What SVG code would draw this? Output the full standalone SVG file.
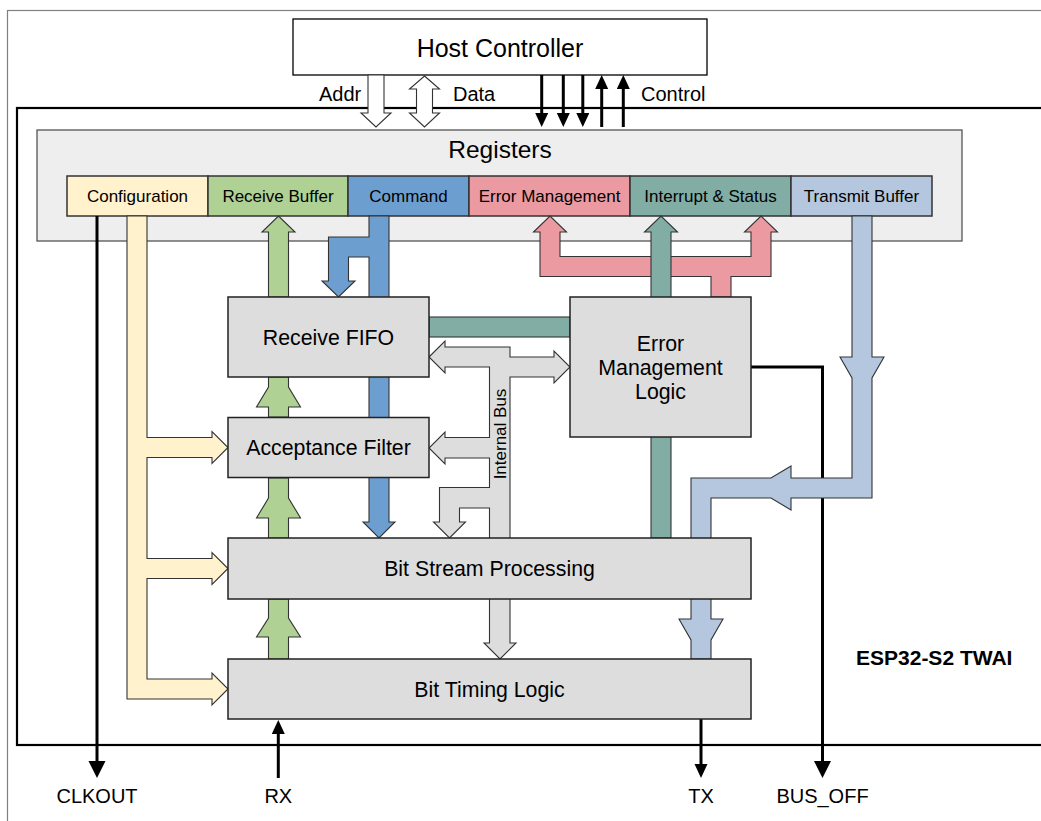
<svg xmlns="http://www.w3.org/2000/svg" width="1041" height="821" viewBox="0 0 1041 821">
<style>
text{font-family:"Liberation Sans",Arial,sans-serif;fill:#000}
.t20{font-size:20px}
.t24{font-size:24.5px}
.t17{font-size:17px}
.t21{font-size:21.3px}
.mid{text-anchor:middle}
.blk{fill:#dddddd;stroke:#222;stroke-width:1.5}
.cell{stroke:#333;stroke-width:1.5}
.fa{stroke:#333;stroke-width:1.1;stroke-linejoin:miter}
.wl{fill:none;stroke:#000;stroke-width:3}
</style>
<defs>
<marker id="ms" markerUnits="userSpaceOnUse" markerWidth="16" markerHeight="14" refX="0" refY="6.5" orient="auto"><path d="M0,0 L14,6.5 L0,13 z" fill="#000"/></marker>
<marker id="ml" markerUnits="userSpaceOnUse" markerWidth="19" markerHeight="18" refX="0" refY="8.5" orient="auto"><path d="M0,0 L17,8.5 L0,17 z" fill="#000"/></marker>
</defs>
<rect x="0" y="0" width="1041" height="821" fill="#fff"/>
<rect x="7.5" y="10.5" width="1100" height="900" fill="#fff" stroke="#808080" stroke-width="1.2"/>
<g id="twai">
<rect x="17" y="108" width="1100" height="637" fill="none" stroke="#000" stroke-width="2.2"/>
<text x="856" y="665" font-size="21" font-weight="bold">ESP32-S2 TWAI</text>
</g>
<g id="registers">
<rect x="37" y="130" width="925" height="111" fill="#eeeeee" stroke="#555" stroke-width="1.3"/>
<text x="500" y="158" class="t24 mid">Registers</text>
</g>
<g id="reg-configuration"><rect x="67" y="176" width="141" height="40" fill="#fff2cc" class="cell"/><text x="137.5" y="202" class="t17 mid">Configuration</text></g>
<g id="reg-receive-buffer"><rect x="208" y="176" width="140" height="40" fill="#afd194" class="cell"/><text x="278" y="202" class="t17 mid">Receive Buffer</text></g>
<g id="reg-command"><rect x="348" y="176" width="121" height="40" fill="#6d9ed0" class="cell"/><text x="408.5" y="202" class="t17 mid">Command</text></g>
<g id="reg-error-management"><rect x="469" y="176" width="161" height="40" fill="#ec9aa2" class="cell"/><text x="549.5" y="202" class="t17 mid">Error Management</text></g>
<g id="reg-interrupt-status"><rect x="630" y="176" width="161" height="40" fill="#81ada5" class="cell"/><text x="710.5" y="202" class="t17 mid">Interrupt &amp; Status</text></g>
<g id="reg-transmit-buffer"><rect x="791" y="176" width="141" height="40" fill="#b4c7de" class="cell"/><text x="861.5" y="202" class="t17 mid">Transmit Buffer</text></g>
<g id="host">
<rect x="293" y="19" width="414" height="56" fill="#fff" stroke="#000" stroke-width="1.3"/>
<text x="500" y="57" class="mid" font-size="25">Host Controller</text>
</g>
<g id="connectors">
<polygon class="fa" fill="#fff" points="368,75 384,75 384,113 391,113 376,127 361,113 368,113"/>
<polygon class="fa" fill="#fff" points="424.5,76 439.5,89 432.5,89 432.5,113 439.5,113 424.5,127 409.5,113 416.5,113 416.5,89 409.5,89"/>
<line class="wl" x1="541.7" y1="75" x2="541.7" y2="113" marker-end="url(#ms)"/>
<line class="wl" x1="563.3" y1="75" x2="563.3" y2="113" marker-end="url(#ms)"/>
<line class="wl" x1="582.8" y1="75" x2="582.8" y2="113" marker-end="url(#ms)"/>
<line class="wl" x1="601.7" y1="127" x2="601.7" y2="89" marker-end="url(#ms)"/>
<line class="wl" x1="623.3" y1="127" x2="623.3" y2="89" marker-end="url(#ms)"/>
<text x="319" y="101" class="t20">Addr</text>
<text x="453" y="101" class="t20">Data</text>
<text x="641" y="101" class="t20">Control</text>
<line class="wl" x1="97" y1="216" x2="97" y2="761" marker-end="url(#ml)"/>
<polygon class="fa" fill="#fff2cc" points="127,216 127,699 212,699 212,705 228,689 212,673 212,679 147,679 147,578.5 212,578.5 212,584.5 228,568.5 212,552.5 212,558.5 147,558.5 147,457.5 212,457.5 212,463.5 228,447.5 212,431.5 212,437.5 147,437.5 147,216"/>
<polygon class="fa" fill="#afd194" points="268.5,297 268.5,232 262,232 278.5,216 295,232 288.5,232 288.5,297"/>
<polygon class="fa" fill="#afd194" points="268.5,417 268.5,407 256.5,407 268.5,387 268.5,377 288.5,377 288.5,387 300.5,407 288.5,407 288.5,417"/>
<polygon class="fa" fill="#afd194" points="268.5,538 268.5,518 256.5,518 268.5,498 268.5,478 288.5,478 288.5,498 300.5,518 288.5,518 288.5,538"/>
<polygon class="fa" fill="#afd194" points="268.5,659 268.5,637 256.5,637 268.5,618 268.5,599 288.5,599 288.5,618 300.5,637 288.5,637 288.5,659"/>
<polygon class="fa" fill="#6d9ed0" points="369,216 389,216 389,522 395,522 379,538 363,522 369,522 369,257 348.5,257 348.5,281 355,281 338.5,297 322,281 328.5,281 328.5,237 369,237"/>
<polygon class="fa" fill="#ec9aa2" points="540,232 533.5,232 550,216 566.5,232 560,232 560,256.5 751,256.5 751,232 744.5,232 761,216 777.5,232 771,232 771,276.5 731,276.5 731,297 711,297 711,276.5 540,276.5"/>
<polygon class="fa" fill="#81ada5" points="651,232 644.5,232 661,216 677.5,232 671,232 671,538 651,538"/>
<rect class="fa" fill="#81ada5" x="429" y="317" width="141" height="20"/>
<polygon class="fa" fill="#dddddd" points="429,357 445,341 445,347 510,347 510,357 554,357 554,351 570,367 554,383 554,377 510,377 510,643 516,643 500,659 484,643 489.5,643 489.5,508 459.5,508 459.5,522 465.5,522 449.5,538 433.5,522 439.5,522 439.5,487.5 489.5,487.5 489.5,458 445,458 445,464 429,448 445,432 445,437.5 489.5,437.5 489.5,367 445,367 445,373"/>
<text transform="translate(506,434) rotate(-90)" class="t17 mid">Internal Bus</text>
<polyline class="wl" points="751,367 822.5,367 822.5,761" marker-end="url(#ml)"/>
<polygon class="fa" fill="#b4c7de" points="852,216 872,216 872,357 884,357 872,378 872,498 791,498 791,510 771,498 711,498 711,619 723,619 711,640 711,659 691,659 691,640 679,619 691,619 691,478 771,478 791,466 791,478 852,478 852,378 840,357 852,357"/>
<line class="wl" x1="701" y1="719" x2="701" y2="764" marker-end="url(#ms)"/>
<line class="wl" x1="278.3" y1="778" x2="278.3" y2="734" marker-end="url(#ms)"/>
<text x="97" y="803" class="t20 mid">CLKOUT</text>
<text x="278.3" y="803" class="t20 mid">RX</text>
<text x="701" y="803" class="t20 mid">TX</text>
<text x="822.5" y="803" class="t20 mid">BUS_OFF</text>
</g>
<g id="receive-fifo"><rect class="blk" x="228" y="297" width="201" height="80"/><text x="328.5" y="344.5" class="t21 mid">Receive FIFO</text></g>
<g id="acceptance-filter"><rect class="blk" x="228" y="417.5" width="201" height="60"/><text x="328.5" y="455" class="t21 mid">Acceptance Filter</text></g>
<g id="error-management-logic"><rect class="blk" x="570" y="297" width="181" height="140"/><text x="660.5" y="351" class="t21 mid">Error</text><text x="660.5" y="375" class="t21 mid">Management</text><text x="660.5" y="399" class="t21 mid">Logic</text></g>
<g id="bit-stream-processing"><rect class="blk" x="228" y="538" width="523" height="61"/><text x="489.5" y="576" class="t21 mid">Bit Stream Processing</text></g>
<g id="bit-timing-logic"><rect class="blk" x="228" y="659" width="523" height="60"/><text x="489.5" y="696.5" class="t21 mid">Bit Timing Logic</text></g>
</svg>
